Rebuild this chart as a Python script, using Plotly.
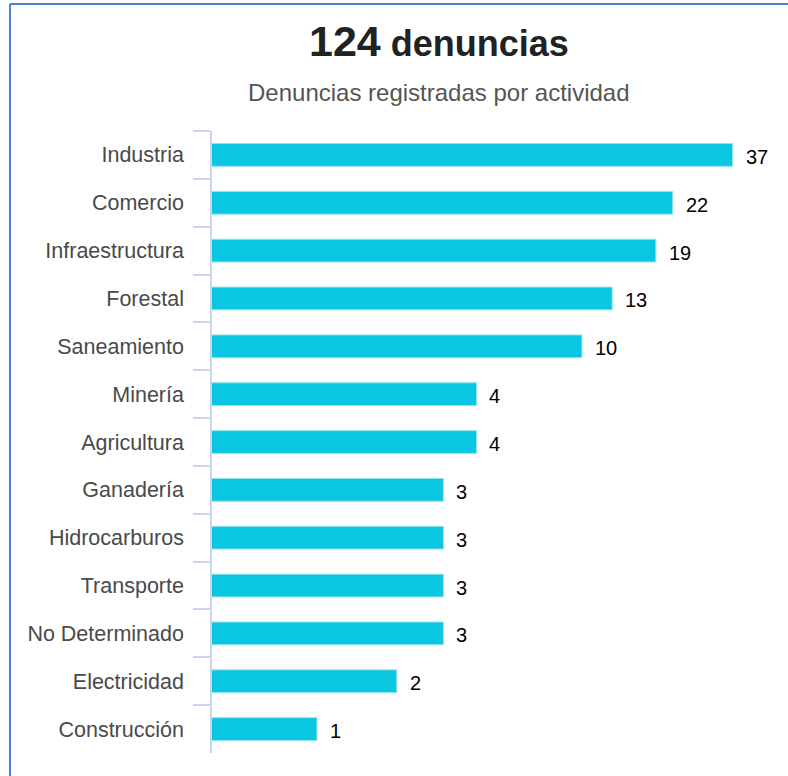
import numpy as np
import plotly.graph_objects as go

categories = ["Industria", "Comercio", "Infraestructura", "Forestal", "Saneamiento",
              "Minería", "Agricultura", "Ganadería", "Hidrocarburos", "Transporte",
              "No Determinado", "Electricidad", "Construcción"]
values = [37, 22, 19, 13, 10, 4, 4, 3, 3, 3, 3, 2, 1]
title_total = "124"
title_word = "denuncias"
subtitle = "Denuncias registradas por actividad"

W, H = 788, 776
L, R, T, B = 212, 8, 131, 23
pw, ph = W - L - R, H - T - B

def px_x(px):
    return (px - L) / pw

def px_y(py):
    return (H - B - py) / ph

FONT = "Liberation Sans, Arial, sans-serif"

fig = go.Figure()
fig.add_trace(go.Bar(
    x=values, y=categories, orientation="h",
    marker=dict(color="#0bc6e0", line=dict(color="#8fe3ef", width=1)),
    hoverinfo="x+y",
))

annotations = []
for c, v in zip(categories, values):
    annotations.append(dict(
        x=np.log10(v), y=c, xref="x", yref="y", text=str(v),
        showarrow=False, xanchor="left", yanchor="middle", xshift=11, yshift=-2,
        font=dict(family=FONT, size=20, color="#000000"),
    ))

annotations.append(dict(
    x=px_x(438.5), y=px_y(41), xref="paper", yref="paper",
    text=f"<b><span style='font-size:43px'>{title_total}</span> {title_word}</b>",
    showarrow=False, xanchor="center", yanchor="middle",
    font=dict(family=FONT, size=36, color="#222222"),
))
annotations.append(dict(
    x=px_x(439), y=px_y(93), xref="paper", yref="paper",
    text=subtitle, showarrow=False, xanchor="center", yanchor="middle",
    font=dict(family=FONT, size=24, color="#555555"),
))

shapes = [
    dict(type="line", xref="paper", yref="paper",
         x0=px_x(10), x1=px_x(10), y0=px_y(4), y1=px_y(H + 5),
         line=dict(color="#4f7fd6", width=2)),
    dict(type="line", xref="paper", yref="paper",
         x0=px_x(10), x1=px_x(W + 5), y0=px_y(4), y1=px_y(4),
         line=dict(color="#4f7fd6", width=2)),
]

lo = -0.396
hi = lo + pw / 265.0

fig.update_layout(
    width=W, height=H,
    margin=dict(l=L, r=R, t=T, b=B),
    paper_bgcolor="white", plot_bgcolor="white",
    bargap=0.525,
    showlegend=False,
    annotations=annotations,
    shapes=shapes,
    font=dict(family=FONT),
    xaxis=dict(type="log", range=[lo, hi], showticklabels=False, showgrid=False,
               zeroline=False, showline=False, ticks=""),
    yaxis=dict(type="category", autorange="reversed", showline=True,
               linecolor="#ccd6eb", linewidth=1.5, ticks="outside", tickson="boundaries",
               ticklen=17, tickcolor="#ccd6eb", tickwidth=1.5, showgrid=False,
               tickfont=dict(family=FONT, size=21.5, color="#4a4a4a"),
               ticklabelstandoff=22),
)

fig.write_html("out.html")
